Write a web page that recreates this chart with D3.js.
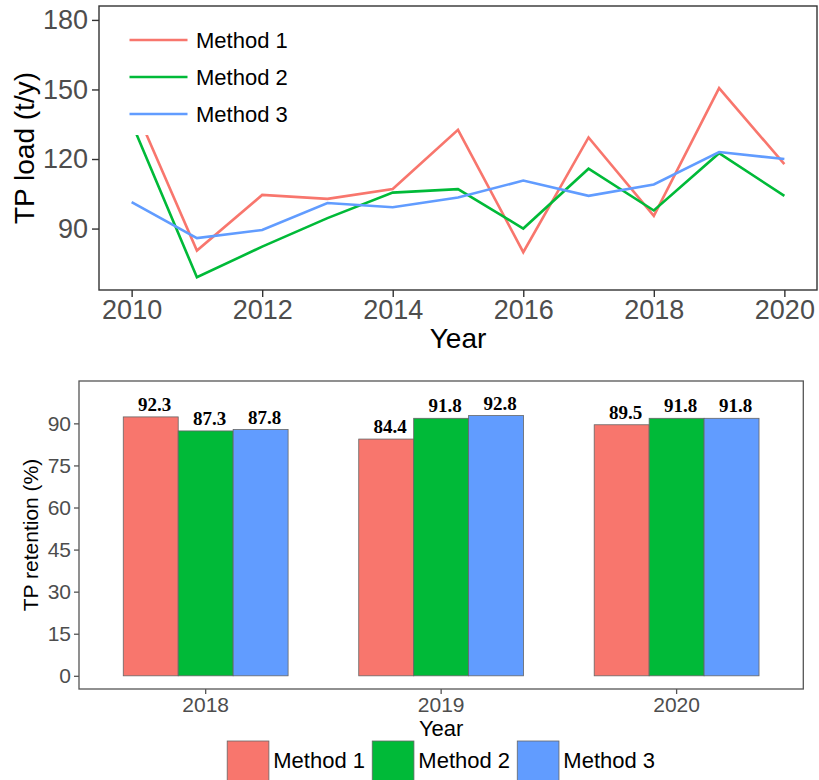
<!DOCTYPE html>
<html>
<head>
<meta charset="utf-8">
<script src="https://cdn.jsdelivr.net/npm/d3@7/dist/d3.min.js"></script>
<style>
  html, body { margin: 0; padding: 0; background: #fff; }
  svg { display: block; }
</style>
</head>
<body>
<svg id="chart" width="819" height="780"></svg>
<script>
// ---- Annual TP load (t/y), 2010–2020 ----
const loadYears = [2010, 2011, 2012, 2013, 2014, 2015, 2016, 2017, 2018, 2019, 2020];
const method1Load = [145.2, 80.5, 104.5, 102.8, 107.1, 132.6, 79.8, 129.3, 95.5, 150.6, 117.8];
const method2Load = [135.6, 69.0, 82.2, 94.5, 105.5, 107.0, 90.0, 115.8, 97.8, 122.5, 104.1];
const method3Load = [101.4, 85.9, 89.4, 101.0, 99.2, 103.4, 110.7, 104.1, 109.0, 123.0, 120.0];
const loadYTicks = [90, 120, 150, 180];
const loadXTicks = [2010, 2012, 2014, 2016, 2018, 2020];

// ---- TP retention (%), 2018–2020 ----
const retYears = ["2018", "2019", "2020"];
const method1Ret = [92.3, 84.4, 89.5];
const method2Ret = [87.3, 91.8, 91.8];
const method3Ret = [87.8, 92.8, 91.8];
const retYTicks = [0, 15, 30, 45, 60, 75, 90];

const methods = ["Method 1", "Method 2", "Method 3"];
const colors = ["#F8766D", "#00BA38", "#619CFF"];

const svg = d3.select("#chart");
svg.append("rect").attr("width", 819).attr("height", 780).attr("fill", "#fff");

const sans = "'Liberation Sans', Arial, sans-serif";
const serif = "'Liberation Serif', 'Times New Roman', serif";
const tickGray = "#4D4D4D";

// ================= Line chart =================
{
  const p = { left: 99, right: 817, top: 6, bottom: 290 };
  const x = d3.scaleLinear().domain([2009.5, 2020.5]).range([p.left, p.right]);
  const y = d3.scaleLinear().domain([63.5, 186]).range([p.bottom, p.top]);
  const g = svg.append("g");

  const series = [method1Load, method2Load, method3Load];
  const line = d3.line().x((d, i) => x(loadYears[i])).y(d => y(d));

  const clipId = "loadClip";
  svg.append("defs").append("clipPath").attr("id", clipId)
    .append("rect").attr("x", p.left).attr("y", p.top)
    .attr("width", p.right - p.left).attr("height", p.bottom - p.top);

  g.append("g").attr("clip-path", `url(#${clipId})`)
    .selectAll("path").data(series).join("path")
    .attr("d", line)
    .attr("fill", "none")
    .attr("stroke", (d, i) => colors[i])
    .attr("stroke-width", 2.6)
    .attr("stroke-linejoin", "miter");

  // legend inside the panel, with white background
  const lg = g.append("g");
  lg.append("rect").attr("x", 106).attr("y", 18).attr("width", 196).attr("height", 117).attr("fill", "#fff");
  methods.forEach((m, i) => {
    const cy = 40 + i * 37;
    lg.append("line").attr("x1", 129.5).attr("x2", 187.5).attr("y1", cy).attr("y2", cy)
      .attr("stroke", colors[i]).attr("stroke-width", 2.6);
    lg.append("text").attr("x", 196).attr("y", cy + 8.3)
      .attr("font-family", sans).attr("font-size", 22).attr("fill", "#000").text(m);
  });

  // panel border
  g.append("rect").attr("x", p.left).attr("y", p.top)
    .attr("width", p.right - p.left).attr("height", p.bottom - p.top)
    .attr("fill", "none").attr("stroke", "#333").attr("stroke-width", 1.4);

  // axes
  const yAxis = d3.axisLeft(y).tickValues(loadYTicks).tickSize(7).tickPadding(4);
  const ya = g.append("g").attr("transform", `translate(${p.left},0)`).call(yAxis);
  const xAxis = d3.axisBottom(x).tickValues(loadXTicks).tickFormat(d3.format("d")).tickSize(7).tickPadding(3);
  const xa = g.append("g").attr("transform", `translate(0,${p.bottom})`).call(xAxis);
  [ya, xa].forEach(a => {
    a.select(".domain").remove();
    a.selectAll(".tick line").attr("stroke", "#333").attr("stroke-width", 1.4);
    a.selectAll(".tick text").attr("font-family", sans).attr("font-size", 27).attr("fill", tickGray);
  });

  g.append("text").attr("transform", `translate(34,${(p.top + p.bottom) / 2}) rotate(-90)`)
    .attr("text-anchor", "middle").attr("font-family", sans).attr("font-size", 28).attr("fill", "#000")
    .text("TP load (t/y)");
  g.append("text").attr("x", (p.left + p.right) / 2).attr("y", 348)
    .attr("text-anchor", "middle").attr("font-family", sans).attr("font-size", 28).attr("fill", "#000")
    .text("Year");
}

// ================= Bar chart =================
{
  const p = { left: 79, right: 803.3, top: 381, bottom: 689 };
  const x0 = d3.scaleBand().domain(retYears).range([p.left, p.right]).paddingInner(0.3).paddingOuter(0.188);
  const x1 = d3.scaleBand().domain(methods).range([0, x0.bandwidth()]).padding(0);
  const y = d3.scaleLinear().domain([-4.7, 105.1]).range([p.bottom, p.top]);
  const g = svg.append("g");

  const series = [method1Ret, method2Ret, method3Ret];
  const rows = [];
  retYears.forEach((yr, j) => methods.forEach((m, i) => rows.push({ yr, m, i, v: series[i][j] })));

  g.append("rect").attr("x", p.left).attr("y", p.top)
    .attr("width", p.right - p.left).attr("height", p.bottom - p.top)
    .attr("fill", "#fff").attr("stroke", "#555").attr("stroke-width", 1.3);

  g.selectAll("rect.bar").data(rows).join("rect").attr("class", "bar")
    .attr("x", d => x0(d.yr) + x1(d.m))
    .attr("y", d => y(d.v))
    .attr("width", x1.bandwidth())
    .attr("height", d => y(0) - y(d.v))
    .attr("fill", d => colors[d.i])
    .attr("stroke", "#666").attr("stroke-width", 0.8);

  g.selectAll("text.val").data(rows).join("text").attr("class", "val")
    .attr("x", d => x0(d.yr) + x1(d.m) + x1.bandwidth() / 2 + 4)
    .attr("y", d => y(d.v) - 6)
    .attr("text-anchor", "middle")
    .attr("font-family", serif).attr("font-weight", "bold").attr("font-size", 19).attr("fill", "#000")
    .text(d => d.v.toFixed(1));

  const yAxis = d3.axisLeft(y).tickValues(retYTicks).tickSize(5).tickPadding(3);
  const ya = g.append("g").attr("transform", `translate(${p.left},0)`).call(yAxis);
  const xAxis = d3.axisBottom(x0).tickSize(5).tickPadding(3);
  const xa = g.append("g").attr("transform", `translate(0,${p.bottom})`).call(xAxis);
  [ya, xa].forEach(a => {
    a.select(".domain").remove();
    a.selectAll(".tick line").attr("stroke", "#555").attr("stroke-width", 1.3);
    a.selectAll(".tick text").attr("font-family", sans).attr("font-size", 21).attr("fill", tickGray);
  });

  g.append("text").attr("transform", `translate(38,${(p.top + p.bottom) / 2}) rotate(-90)`)
    .attr("text-anchor", "middle").attr("font-family", sans).attr("font-size", 21).attr("fill", "#000")
    .text("TP retention (%)");
  g.append("text").attr("x", (p.left + p.right) / 2).attr("y", 736)
    .attr("text-anchor", "middle").attr("font-family", sans).attr("font-size", 22).attr("fill", "#000")
    .text("Year");

  // bottom legend, centred under the panel
  const key = 41.7, gapText = 4.4, gapItem = 7.2;
  const lg = g.append("g");
  const items = methods.map((m, i) => {
    const t = lg.append("text").attr("font-family", sans).attr("font-size", 22).attr("fill", "#000")
      .attr("y", 768).text(m);
    return { t, w: t.node().getComputedTextLength(), i };
  });
  const total = d3.sum(items, d => key + gapText + d.w) + gapItem * (items.length - 1);
  let cx = (p.left + p.right) / 2 - total / 2;
  items.forEach(d => {
    lg.insert("rect", "text").attr("x", cx).attr("y", 741).attr("width", key).attr("height", key)
      .attr("fill", colors[d.i]).attr("stroke", "#666").attr("stroke-width", 0.8);
    d.t.attr("x", cx + key + gapText);
    cx += key + gapText + d.w + gapItem;
  });
}
</script>
</body>
</html>
